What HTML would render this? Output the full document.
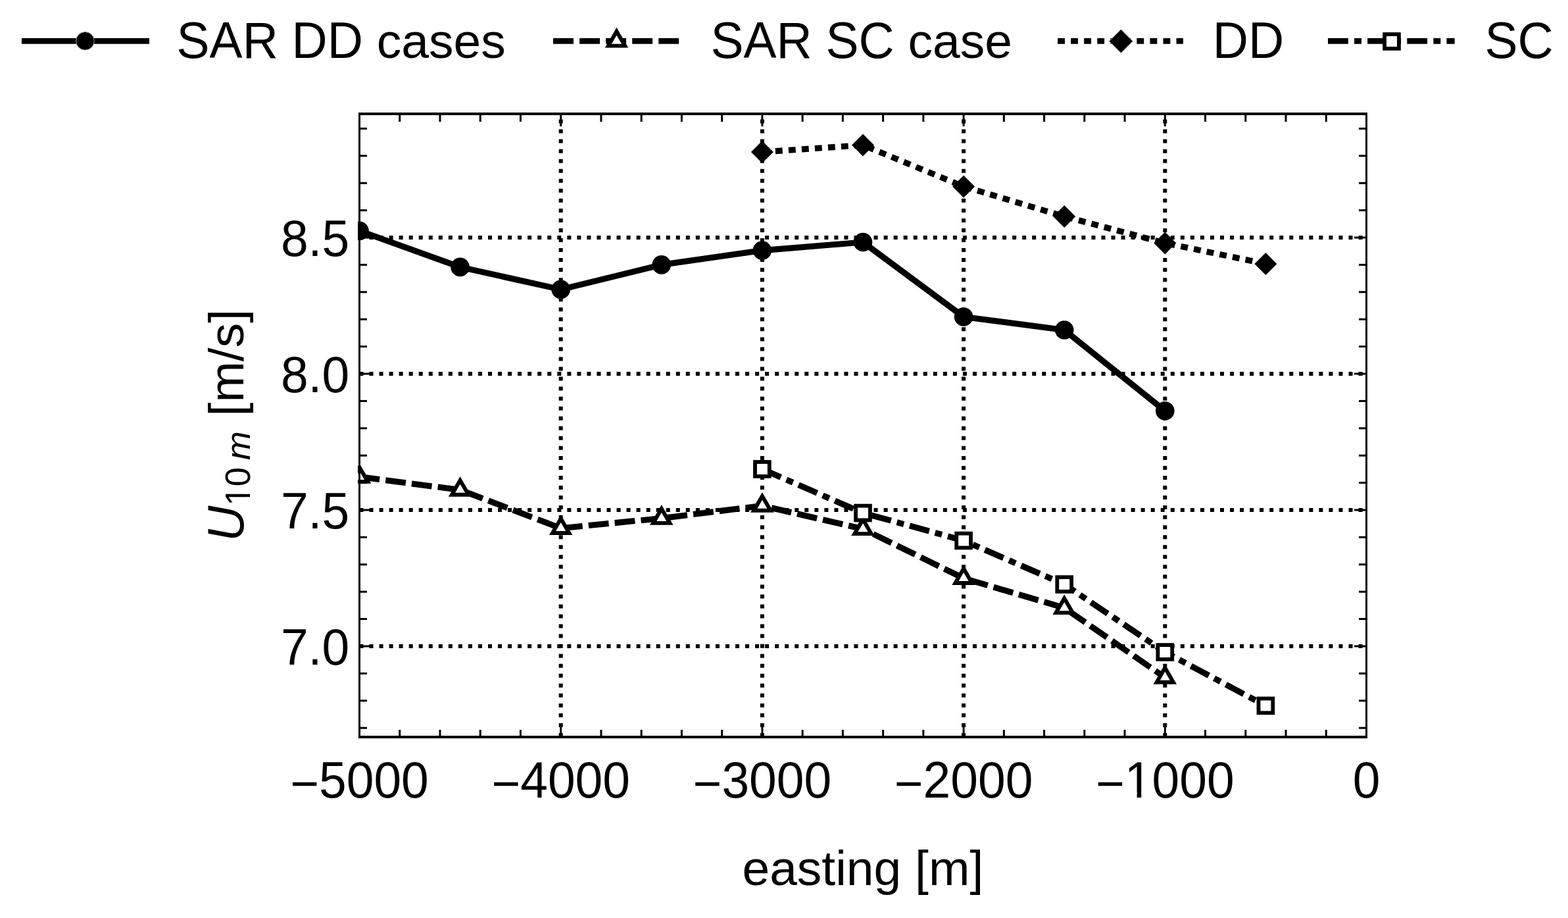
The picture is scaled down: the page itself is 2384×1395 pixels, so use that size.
<!DOCTYPE html>
<html><head><meta charset="utf-8"><title>U10m vs easting</title>
<style>html,body{margin:0;padding:0;background:#fff;overflow:hidden}svg{display:block}</style>
</head><body>
<svg width="2384" height="1395" viewBox="0 0 2384 1395">
<defs><clipPath id="pc"><rect x="544" y="171" width="1535" height="951"/></clipPath></defs>
<rect x="0" y="0" width="2384" height="1395" fill="#fff"/>
<g stroke="#000" stroke-width="6" stroke-dasharray="6 9.04" fill="none"><path d="M546.5 361.00H2077.5"/><path d="M546.5 568.00H2077.5"/><path d="M546.5 775.00H2077.5"/><path d="M546.5 982.00H2077.5"/><path d="M852.70 1120V173"/><path d="M1158.90 1120V173"/><path d="M1465.10 1120V173"/><path d="M1771.30 1120V173"/></g>
<g clip-path="url(#pc)"><polyline points="546.50,350.80 699.60,405.90 852.70,439.90 1005.80,402.40 1158.90,380.60 1312.00,368.00 1465.10,481.50 1618.20,501.50 1771.30,624.40" fill="none" stroke="#000" stroke-width="9.1" stroke-linejoin="round"/><polyline points="546.50,724.60 699.60,744.50 852.70,802.70 1005.80,787.60 1158.90,768.50 1312.00,803.80 1465.10,878.70 1618.20,923.80 1771.30,1029.50" fill="none" stroke="#000" stroke-width="9.1" stroke-dasharray="30.9 9.15" stroke-linejoin="round"/><polyline points="1158.90,231.00 1312.00,220.50 1465.10,283.40 1618.20,329.00 1771.30,369.40 1924.40,400.90" fill="none" stroke="#000" stroke-width="9.1" stroke-dasharray="10.85 9.2"/><polyline points="1158.90,712.90 1312.00,779.50 1465.10,821.50 1618.20,888.00 1771.30,991.00 1924.40,1072.40" fill="none" stroke="#000" stroke-width="9.1" stroke-dasharray="30.85 9.2 10.9 9.2"/><circle cx="546.50" cy="350.80" r="14.3" fill="#000"/><circle cx="699.60" cy="405.90" r="14.3" fill="#000"/><circle cx="852.70" cy="439.90" r="14.3" fill="#000"/><circle cx="1005.80" cy="402.40" r="14.3" fill="#000"/><circle cx="1158.90" cy="380.60" r="14.3" fill="#000"/><circle cx="1312.00" cy="368.00" r="14.3" fill="#000"/><circle cx="1465.10" cy="481.50" r="14.3" fill="#000"/><circle cx="1618.20" cy="501.50" r="14.3" fill="#000"/><circle cx="1771.30" cy="624.40" r="14.3" fill="#000"/><path d="M546.50 709.96L559.18 731.92L533.82 731.92Z" fill="#fff" stroke="#000" stroke-width="5.9" stroke-linejoin="miter" stroke-miterlimit="10"/><path d="M699.60 729.86L712.28 751.82L686.92 751.82Z" fill="#fff" stroke="#000" stroke-width="5.9" stroke-linejoin="miter" stroke-miterlimit="10"/><path d="M852.70 788.06L865.38 810.02L840.02 810.02Z" fill="#fff" stroke="#000" stroke-width="5.9" stroke-linejoin="miter" stroke-miterlimit="10"/><path d="M1005.80 772.96L1018.48 794.92L993.12 794.92Z" fill="#fff" stroke="#000" stroke-width="5.9" stroke-linejoin="miter" stroke-miterlimit="10"/><path d="M1158.90 753.86L1171.58 775.82L1146.22 775.82Z" fill="#fff" stroke="#000" stroke-width="5.9" stroke-linejoin="miter" stroke-miterlimit="10"/><path d="M1312.00 789.16L1324.68 811.12L1299.32 811.12Z" fill="#fff" stroke="#000" stroke-width="5.9" stroke-linejoin="miter" stroke-miterlimit="10"/><path d="M1465.10 864.06L1477.78 886.02L1452.42 886.02Z" fill="#fff" stroke="#000" stroke-width="5.9" stroke-linejoin="miter" stroke-miterlimit="10"/><path d="M1618.20 909.16L1630.88 931.12L1605.52 931.12Z" fill="#fff" stroke="#000" stroke-width="5.9" stroke-linejoin="miter" stroke-miterlimit="10"/><path d="M1771.30 1014.86L1783.98 1036.82L1758.62 1036.82Z" fill="#fff" stroke="#000" stroke-width="5.9" stroke-linejoin="miter" stroke-miterlimit="10"/><path d="M1158.90 214.00L1175.90 231.00L1158.90 248.00L1141.90 231.00Z" fill="#000"/><path d="M1312.00 203.50L1329.00 220.50L1312.00 237.50L1295.00 220.50Z" fill="#000"/><path d="M1465.10 266.40L1482.10 283.40L1465.10 300.40L1448.10 283.40Z" fill="#000"/><path d="M1618.20 312.00L1635.20 329.00L1618.20 346.00L1601.20 329.00Z" fill="#000"/><path d="M1771.30 352.40L1788.30 369.40L1771.30 386.40L1754.30 369.40Z" fill="#000"/><path d="M1924.40 383.90L1941.40 400.90L1924.40 417.90L1907.40 400.90Z" fill="#000"/><rect x="1148.00" y="702.00" width="21.80" height="21.80" fill="#fff" stroke="#000" stroke-width="5.8"/><rect x="1301.10" y="768.60" width="21.80" height="21.80" fill="#fff" stroke="#000" stroke-width="5.8"/><rect x="1454.20" y="810.60" width="21.80" height="21.80" fill="#fff" stroke="#000" stroke-width="5.8"/><rect x="1607.30" y="877.10" width="21.80" height="21.80" fill="#fff" stroke="#000" stroke-width="5.8"/><rect x="1760.40" y="980.10" width="21.80" height="21.80" fill="#fff" stroke="#000" stroke-width="5.8"/><rect x="1913.50" y="1061.50" width="21.80" height="21.80" fill="#fff" stroke="#000" stroke-width="5.8"/></g>
<g fill="#000"><rect x="545" y="171" width="3" height="951"/><rect x="2076" y="171" width="3" height="951"/><rect x="545" y="171" width="1534" height="4"/><rect x="545" y="1118" width="1534" height="4"/><rect x="606.24" y="175" width="3" height="10"/><rect x="606.24" y="1109" width="3" height="9"/><rect x="667.48" y="175" width="3" height="10"/><rect x="667.48" y="1109" width="3" height="9"/><rect x="728.72" y="175" width="3" height="10"/><rect x="728.72" y="1109" width="3" height="9"/><rect x="789.96" y="175" width="3" height="10"/><rect x="789.96" y="1109" width="3" height="9"/><rect x="851.20" y="175" width="3" height="17"/><rect x="851.20" y="1102" width="3" height="16"/><rect x="912.44" y="175" width="3" height="10"/><rect x="912.44" y="1109" width="3" height="9"/><rect x="973.68" y="175" width="3" height="10"/><rect x="973.68" y="1109" width="3" height="9"/><rect x="1034.92" y="175" width="3" height="10"/><rect x="1034.92" y="1109" width="3" height="9"/><rect x="1096.16" y="175" width="3" height="10"/><rect x="1096.16" y="1109" width="3" height="9"/><rect x="1157.40" y="175" width="3" height="17"/><rect x="1157.40" y="1102" width="3" height="16"/><rect x="1218.64" y="175" width="3" height="10"/><rect x="1218.64" y="1109" width="3" height="9"/><rect x="1279.88" y="175" width="3" height="10"/><rect x="1279.88" y="1109" width="3" height="9"/><rect x="1341.12" y="175" width="3" height="10"/><rect x="1341.12" y="1109" width="3" height="9"/><rect x="1402.36" y="175" width="3" height="10"/><rect x="1402.36" y="1109" width="3" height="9"/><rect x="1463.60" y="175" width="3" height="17"/><rect x="1463.60" y="1102" width="3" height="16"/><rect x="1524.84" y="175" width="3" height="10"/><rect x="1524.84" y="1109" width="3" height="9"/><rect x="1586.08" y="175" width="3" height="10"/><rect x="1586.08" y="1109" width="3" height="9"/><rect x="1647.32" y="175" width="3" height="10"/><rect x="1647.32" y="1109" width="3" height="9"/><rect x="1708.56" y="175" width="3" height="10"/><rect x="1708.56" y="1109" width="3" height="9"/><rect x="1769.80" y="175" width="3" height="17"/><rect x="1769.80" y="1102" width="3" height="16"/><rect x="1831.04" y="175" width="3" height="10"/><rect x="1831.04" y="1109" width="3" height="9"/><rect x="1892.28" y="175" width="3" height="10"/><rect x="1892.28" y="1109" width="3" height="9"/><rect x="1953.52" y="175" width="3" height="10"/><rect x="1953.52" y="1109" width="3" height="9"/><rect x="2014.76" y="175" width="3" height="10"/><rect x="2014.76" y="1109" width="3" height="9"/><rect x="548" y="1104.70" width="10" height="3"/><rect x="2066" y="1104.70" width="10" height="3"/><rect x="548" y="1063.30" width="10" height="3"/><rect x="2066" y="1063.30" width="10" height="3"/><rect x="548" y="1021.90" width="10" height="3"/><rect x="2066" y="1021.90" width="10" height="3"/><rect x="548" y="980.50" width="17" height="3"/><rect x="2059" y="980.50" width="17" height="3"/><rect x="548" y="939.10" width="10" height="3"/><rect x="2066" y="939.10" width="10" height="3"/><rect x="548" y="897.70" width="10" height="3"/><rect x="2066" y="897.70" width="10" height="3"/><rect x="548" y="856.30" width="10" height="3"/><rect x="2066" y="856.30" width="10" height="3"/><rect x="548" y="814.90" width="10" height="3"/><rect x="2066" y="814.90" width="10" height="3"/><rect x="548" y="773.50" width="17" height="3"/><rect x="2059" y="773.50" width="17" height="3"/><rect x="548" y="732.10" width="10" height="3"/><rect x="2066" y="732.10" width="10" height="3"/><rect x="548" y="690.70" width="10" height="3"/><rect x="2066" y="690.70" width="10" height="3"/><rect x="548" y="649.30" width="10" height="3"/><rect x="2066" y="649.30" width="10" height="3"/><rect x="548" y="607.90" width="10" height="3"/><rect x="2066" y="607.90" width="10" height="3"/><rect x="548" y="566.50" width="17" height="3"/><rect x="2059" y="566.50" width="17" height="3"/><rect x="548" y="525.10" width="10" height="3"/><rect x="2066" y="525.10" width="10" height="3"/><rect x="548" y="483.70" width="10" height="3"/><rect x="2066" y="483.70" width="10" height="3"/><rect x="548" y="442.30" width="10" height="3"/><rect x="2066" y="442.30" width="10" height="3"/><rect x="548" y="400.90" width="10" height="3"/><rect x="2066" y="400.90" width="10" height="3"/><rect x="548" y="359.50" width="17" height="3"/><rect x="2059" y="359.50" width="17" height="3"/><rect x="548" y="318.10" width="10" height="3"/><rect x="2066" y="318.10" width="10" height="3"/><rect x="548" y="276.70" width="10" height="3"/><rect x="2066" y="276.70" width="10" height="3"/><rect x="548" y="235.30" width="10" height="3"/><rect x="2066" y="235.30" width="10" height="3"/><rect x="548" y="193.90" width="10" height="3"/><rect x="2066" y="193.90" width="10" height="3"/></g>
<defs><clipPath id="nofoot75"><path d="M-500 -500H1000V500H-500ZM48.51 -7.20H62.64V1.50H48.51ZM69.31 -7.20H82.85V1.50H69.31Z" clip-rule="evenodd"/></clipPath><clipPath id="nofoot52"><path d="M-500 -500H1000V500H-500ZM3.00 -5.52H13.18V1.50H3.00ZM17.86 -5.52H27.63V1.50H17.86Z" clip-rule="evenodd"/></clipPath></defs>
<g font-family="Liberation Sans, Arial, Helvetica, sans-serif" style="font-kerning:none" fill="#000">
<text transform="translate(531.15 389.00) scale(1 1.025)" font-size="75" text-anchor="end">8.5</text>
<text transform="translate(531.15 596.00) scale(1 1.025)" font-size="75" text-anchor="end">8.0</text>
<text transform="translate(531.15 803.00) scale(1 1.025)" font-size="75" text-anchor="end">7.5</text>
<text transform="translate(531.15 1010.00) scale(1 1.025)" font-size="75" text-anchor="end">7.0</text>
<text transform="translate(441.18 1211.8) scale(1 1.025)" font-size="75"><tspan dy="5.3">−</tspan><tspan dy="-5.3">5000</tspan></text>
<text transform="translate(747.38 1211.8) scale(1 1.025)" font-size="75"><tspan dy="5.3">−</tspan><tspan dy="-5.3">4000</tspan></text>
<text transform="translate(1053.58 1211.8) scale(1 1.025)" font-size="75"><tspan dy="5.3">−</tspan><tspan dy="-5.3">3000</tspan></text>
<text transform="translate(1359.78 1211.8) scale(1 1.025)" font-size="75"><tspan dy="5.3">−</tspan><tspan dy="-5.3">2000</tspan></text>
<text transform="translate(1665.98 1211.8) scale(1 1.025)" font-size="75" clip-path="url(#nofoot75)"><tspan dy="5.3">−</tspan><tspan dy="-5.3">1000</tspan></text>
<text transform="translate(2077.50 1211.80) scale(1 1.025)" font-size="75" text-anchor="middle">0</text>
</g>
<g font-family="Liberation Sans, Arial, Helvetica, sans-serif" style="font-kerning:none" fill="#000">
<text text-anchor="middle" transform="translate(1311.85 1345.00)" font-size="75">easting [m]</text>
<g transform="translate(370 822.7) rotate(-90)">
<text transform="translate(0.00 0.00) scale(1 1.044)" font-size="75" font-style="italic">U</text>
<text transform="translate(54.16 10.20) scale(1 1.025)" font-size="52.5" clip-path="url(#nofoot52)">10 </text>
<text transform="translate(123.80 10.20)" font-size="52.5" font-style="italic">m </text>
<text transform="translate(190.25 0.00)" font-size="75">[m/s]</text>
</g>
</g>
<g><path d="M32.9 62.3H227" stroke="#000" stroke-width="8.8"/><circle cx="129.4" cy="62.3" r="13.8" fill="#000" stroke="#9a9a9a" stroke-width="1"/><path d="M841.05 62.47H1032.6" stroke="#000" stroke-width="8.8" stroke-dasharray="30.9 9.15"/><path d="M937.50 47.66L950.18 69.62L924.82 69.62Z" fill="#fff" stroke="#000" stroke-width="5.9" stroke-linejoin="miter" stroke-miterlimit="10"/><path d="M1608.1 62.4H1798.9" stroke="#000" stroke-width="8.8" stroke-dasharray="10.85 9.2"/><path d="M1704.30 44.70L1722.20 62.60L1704.30 80.50L1686.40 62.60Z" fill="#000" stroke="#9a9a9a" stroke-width="1"/><path d="M2019.0 62.45H2211.7" stroke="#000" stroke-width="8.8" stroke-dasharray="30.85 9.2 10.9 9.2"/><rect x="2105.10" y="52.06" width="21.80" height="21.80" fill="#fff" stroke="#000" stroke-width="5.8"/></g>
<g font-family="Liberation Sans, Arial, Helvetica, sans-serif" style="font-kerning:none" fill="#000">
<text transform="translate(268.60 87.90) scale(1 1.044)" font-size="75">SAR DD </text>
<text transform="translate(572.81 87.90)" font-size="75">cases</text>
<text transform="translate(1080.50 87.90) scale(1 1.044)" font-size="75">SAR SC </text>
<text transform="translate(1380.57 87.90)" font-size="75">case</text>
<text transform="translate(1843.85 87.90) scale(1 1.044)" font-size="75">DD</text>
<text transform="translate(2257.40 87.90) scale(1 1.044)" font-size="75">SC</text>
</g>
</svg>
</body></html>
